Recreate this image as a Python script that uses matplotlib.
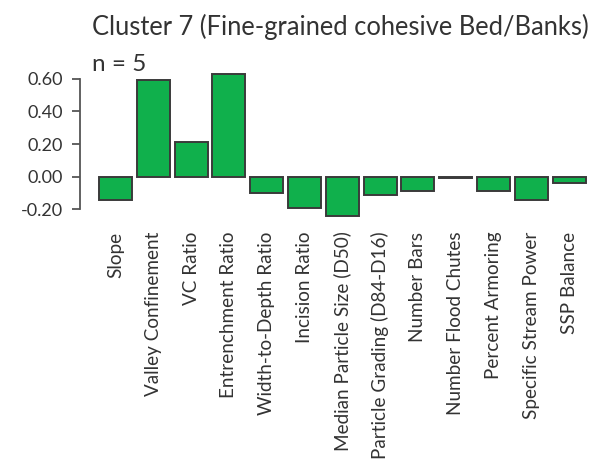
import matplotlib
matplotlib.use("Agg")
import matplotlib.pyplot as plt

# Mean standardized metric values for cluster 7
metrics = [
    "Slope",
    "Valley Confinement",
    "VC Ratio",
    "Entrenchment Ratio",
    "Width-to-Depth Ratio",
    "Incision Ratio",
    "Median Particle Size (D50)",
    "Particle Grading (D84-D16)",
    "Number Bars",
    "Number Flood Chutes",
    "Percent Armoring",
    "Specific Stream Power",
    "SSP Balance",
]
values = [-0.14, 0.59, 0.21, 0.63, -0.10, -0.19, -0.24, -0.11,
          -0.09, -0.005, -0.09, -0.14, -0.04]
y_ticks = [-0.20, 0.00, 0.20, 0.40, 0.60]
title = "Cluster 7 (Fine-grained cohesive Bed/Banks)"
subtitle = "n = 5"

plt.rcParams["font.family"] = ["Lato", "DejaVu Sans"]
text_color = "#333333"

fig = plt.figure(figsize=(6.02, 4.69), dpi=100)
ax = fig.add_axes([0.129, 0.536, 0.854, 0.3138])

x = list(range(len(metrics)))
ax.bar(x, values, width=0.87, color="#10b04c", edgecolor="#3a3a3a",
       linewidth=1.4)

ax.set_xlim(-1.0, 12.6)
ax.set_ylim(-0.25, 0.65)

for side in ("top", "right", "bottom"):
    ax.spines[side].set_visible(False)
ax.spines["left"].set_position(("data", -0.94))
ax.spines["left"].set_bounds(-0.20, 0.60)
ax.spines["left"].set_color("#555555")
ax.spines["left"].set_linewidth(1.3)

ax.set_yticks(y_ticks)
ax.set_yticklabels([f"{v:.2f}" for v in y_ticks])
ax.tick_params(axis="y", direction="out", length=6, width=1.3,
               color="#555555", labelsize=13, labelcolor=text_color, pad=6)

ax.set_xticks(x)
ax.set_xticklabels(metrics, rotation=90, va="top", ha="center")
ax.tick_params(axis="x", length=0, labelsize=13.6, labelcolor=text_color,
               pad=10)

fig.text(92 / 602, 1 - 35 / 469, title, fontsize=18.4, color=text_color,
         ha="left", va="baseline")
fig.text(92 / 602, 1 - 71 / 469, subtitle, fontsize=17.5, color=text_color,
         ha="left", va="baseline")

fig.savefig("out.png", dpi=100)
